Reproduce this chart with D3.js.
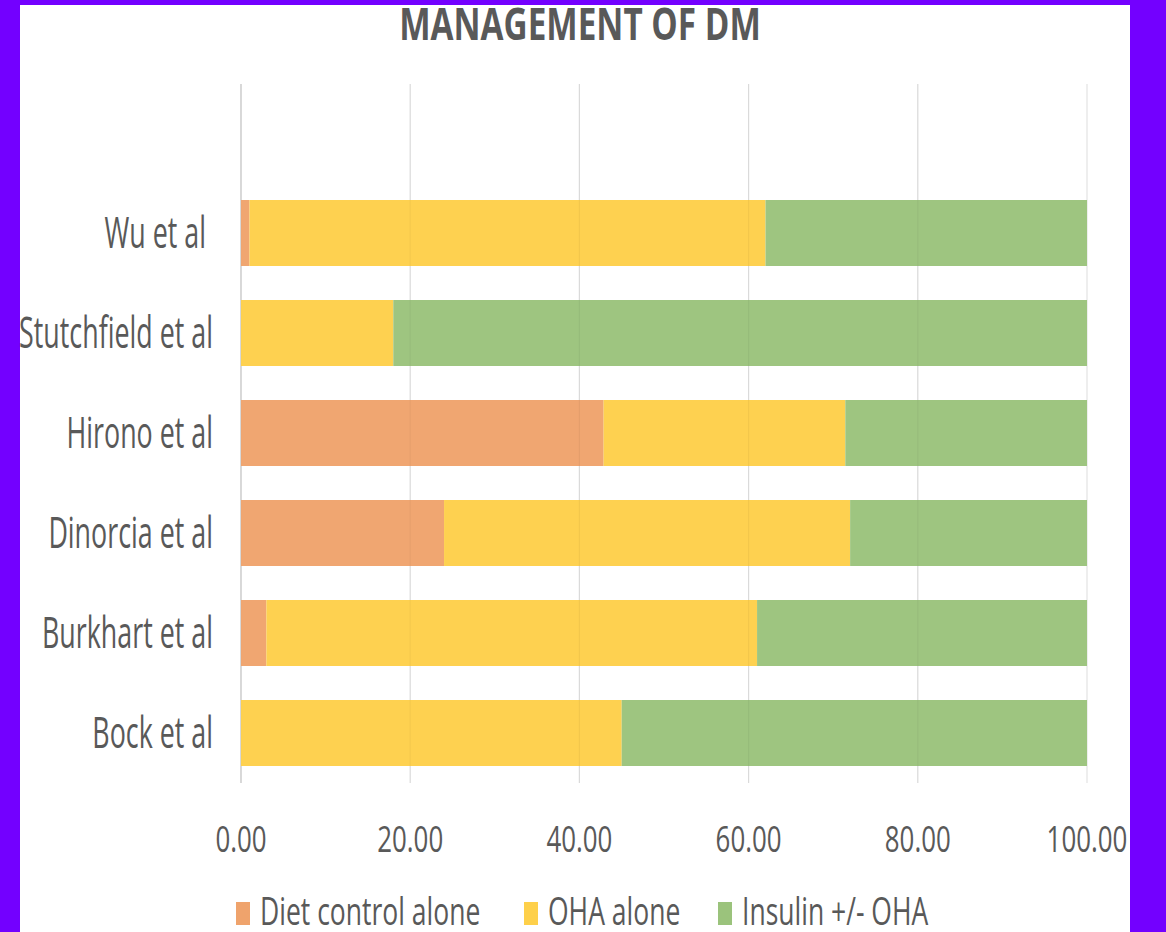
<!DOCTYPE html>
<html>
<head>
<meta charset="utf-8">
<script src="https://cdn.jsdelivr.net/npm/d3@7"></script>
<style>
  html, body { margin: 0; padding: 0; background: #7300FF; }
  svg { display: block; }
  text { font-family: "Open Sans", sans-serif; fill: #595959; white-space: pre; }
</style>
</head>
<body>
<svg id="chart" width="1166" height="932"></svg>
<script>
// Studies, top to bottom
const studies = ["Wu et al ", "Stutchfield et al", "Hirono et al", "Dinorcia et al", "Burkhart et al", "Bock et al"];
// Share of patients (%) by management type
const dietControl = [1, 0, 42.86, 24, 3, 0];
const ohaAlone = [61, 18, 28.57, 48, 58, 45];
const insulinOha = [38, 82, 28.57, 28, 39, 55];
const seriesNames = ["Diet control alone", "OHA alone", "Insulin +/- OHA"];
const seriesColors = ["#EFA36C", "#FED04A", "#9BC37C"];
const tickValues = [0, 20, 40, 60, 80, 100];

const svg = d3.select("#chart");

// white chart panel
svg.append("rect").attr("x", 20).attr("y", 5).attr("width", 1110).attr("height", 927).attr("fill", "#ffffff");

const x = d3.scaleLinear().domain([0, 100]).range([241, 1087]);
const y = d3.scaleBand().domain(studies).range([183, 783]).paddingInner(0.34).paddingOuter(0.17);

// gridlines
svg.append("g").selectAll("line").data(tickValues).join("line")
  .attr("x1", d => x(d)).attr("x2", d => x(d))
  .attr("y1", 84).attr("y2", 783)
  .attr("stroke", d => d === 0 ? "#BFBFBF" : "#E3E3E3")
  .attr("stroke-width", 1.2);

// stacked series
const rows = studies.map((s, i) => ({study: s, diet: dietControl[i], oha: ohaAlone[i], ins: insulinOha[i]}));
const stack = d3.stack().keys(["diet", "oha", "ins"])(rows);

svg.append("g").selectAll("g").data(stack).join("g")
  .attr("fill", (d, i) => seriesColors[i])
  .attr("fill-opacity", 0.97)
  .selectAll("rect").data(d => d).join("rect")
  .attr("x", d => x(d[0]))
  .attr("width", d => x(d[1]) - x(d[0]))
  .attr("y", d => y(d.data.study))
  .attr("height", y.bandwidth());

// gridlines show faintly through the bars
svg.append("g").selectAll("line").data(tickValues.filter(d => d > 0 && d < 100)).join("line")
  .attr("x1", d => x(d)).attr("x2", d => x(d))
  .attr("y1", 84).attr("y2", 783)
  .attr("stroke", "#000").attr("stroke-opacity", 0.04).attr("stroke-width", 1.2);

// category labels
svg.append("g").selectAll("text").data(studies).join("text")
  .attr("transform", d => `translate(213,${y(d) + y.bandwidth() / 2 + 15}) scale(0.61,1)`)
  .attr("text-anchor", "end")
  .attr("font-size", 44)
  .text(d => d);

// value axis labels
svg.append("g").selectAll("text").data(tickValues).join("text")
  .attr("transform", d => `translate(${x(d)},852) scale(0.7,1)`)
  .attr("text-anchor", "middle")
  .attr("font-size", 37)
  .text(d => d3.format(".2f")(d));

// title
svg.append("text")
  .attr("transform", `translate(580,40) scale(0.74,1)`)
  .attr("text-anchor", "middle")
  .attr("font-size", 45)
  .attr("font-weight", 700)
  .text("MANAGEMENT OF DM");

// legend
const legendX = [236, 524, 718];
const legend = svg.append("g").selectAll("g").data(seriesNames).join("g")
  .attr("transform", (d, i) => `translate(${legendX[i]},0)`);
legend.append("rect").attr("x", 0).attr("y", 902).attr("width", 14).attr("height", 23)
  .attr("fill", (d, i) => seriesColors[i]);
legend.append("text")
  .attr("transform", `translate(24,925) scale(0.68,1)`)
  .attr("font-size", 39)
  .text(d => d);
</script>
</body>
</html>
